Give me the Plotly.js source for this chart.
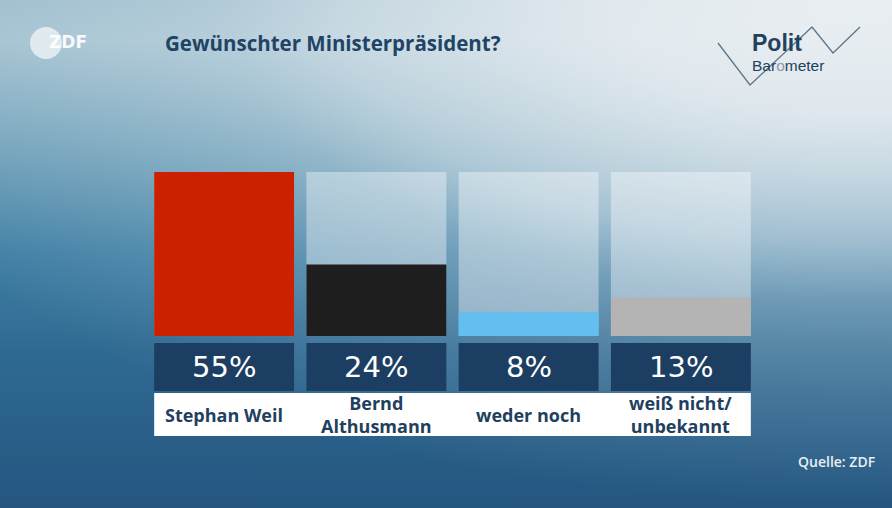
<!DOCTYPE html>
<html>
<head>
<meta charset="utf-8">
<script src="https://cdn.plot.ly/plotly-3.0.1.min.js"></script>
<style>
html,body{margin:0;padding:0;}
body{
  width:892px;height:508px;overflow:hidden;
  background:
    radial-gradient(750px 360px at 850px 0px, rgba(236,240,243,0.96) 0%, rgba(236,240,243,0.88) 30%, rgba(236,240,243,0.75) 45%, rgba(236,240,243,0.53) 68%, rgba(236,240,243,0.31) 83%, rgba(236,240,243,0.24) 92%, rgba(236,240,243,0.13) 111%, rgba(236,240,243,0) 140%),
    linear-gradient(180deg, rgb(152,186,203) 0px, rgb(160,192,208) 40px, rgb(110,160,185) 150px, rgb(65,128,165) 250px, rgb(47,106,146) 350px, rgb(36,86,128) 508px);
}
#chart{width:892px;height:508px;}
</style>
</head>
<body>
<div id="chart"></div>
<script>
// ---- data ----
const categories = ['Stephan Weil', 'Bernd<br>Althusmann', 'weder noch', 'weiß nicht/<br>unbekannt'];
const values = [55, 24, 8, 13];
const barColors = ['#cc2100', '#1e1e1e', '#62bff0', '#b4b4b4'];
const titleText = 'Gewünschter Ministerpräsident?';
const sourceText = 'Quelle: ZDF';

// ---- layout helpers ----
const W = 892, H = 508;
const L = 148, R = 135, T = 157, B = 53;
const PW = W - L - R, PH = H - T - B;
const k = 164 / 55;              // pixels per percentage point
const y0px = 336;                // pixel of value 0
const yRange = [-(H - B - y0px) / k, (y0px - T) / k];
const px = x => (x - L) / PW;    // pixel -> paper x
const py = y => (H - B - y) / PH; // pixel -> paper y
const barW = 0.919;
const idx = categories.map((_, i) => i);
const maxV = Math.max(...values);

// label box extents in value units (below the zero line)
const boxTop = -(343 - y0px) / k, boxBot = -(391 - y0px) / k;
const whiteTop = -(393 - y0px) / k, whiteBot = -(436 - y0px) / k;

const traces = [
  { type: 'bar', x: idx, y: idx.map(() => maxV), width: barW,
    marker: { color: 'rgba(255,255,255,0.38)' }, hoverinfo: 'skip' },
  { type: 'bar', x: idx, y: values, width: barW,
    marker: { color: barColors }, hoverinfo: 'skip' },
  { type: 'bar', x: idx, y: idx.map(() => boxTop - boxBot), base: idx.map(() => boxBot), width: barW,
    marker: { color: '#1c3e62' }, hoverinfo: 'skip' }
];

const fontMain = 'Open Sans, Roboto, sans-serif';
const fontLogo = 'Liberation Sans, Arial, sans-serif';
const navy = '#1f4466';

const annotations = [];
values.forEach((v, i) => {
  annotations.push({ x: i, y: (boxTop + boxBot) / 2, xref: 'x', yref: 'y', text: v + '%',
    showarrow: false, xanchor: 'center', yanchor: 'middle',
    font: { family: 'DejaVu Sans, sans-serif', size: 29, color: '#ffffff', weight: 400 } });
  annotations.push({ x: i, y: (whiteTop + whiteBot) / 2, xref: 'x', yref: 'y', text: categories[i],
    showarrow: false, xanchor: 'center', yanchor: 'middle',
    font: { family: fontMain, size: 18, color: '#223f5e', weight: 700 } });
});
// ZDF logo text
annotations.push({ x: px(47), y: py(42), xref: 'paper', yref: 'paper', text: 'ZDF', showarrow: false,
  xanchor: 'left', yanchor: 'middle', font: { family: 'DejaVu Sans, sans-serif', size: 17, color: 'rgba(255,255,255,0.92)', weight: 700 } });
// Politbarometer logo
annotations.push({ x: px(750), y: py(43), xref: 'paper', yref: 'paper', text: 'Polit', showarrow: false,
  xanchor: 'left', yanchor: 'middle', font: { family: fontLogo, size: 23, color: '#22415f', weight: 700 } });
annotations.push({ x: px(750), y: py(65.5), xref: 'paper', yref: 'paper',
  text: 'Bar<span style="color:#8d9ba6">o</span>meter', showarrow: false,
  xanchor: 'left', yanchor: 'middle', font: { family: fontLogo, size: 15.5, color: '#22415f' } });
// Source
annotations.push({ x: px(877), y: py(461), xref: 'paper', yref: 'paper', text: sourceText, showarrow: false,
  xanchor: 'right', yanchor: 'middle', font: { family: fontMain, size: 14, color: '#e8eff4', weight: 600 } });

const zig = [[718, 43], [750, 85], [812, 27], [833, 53], [860, 27]];
const zigPath = zig.map((p, i) => (i ? 'L' : 'M') + px(p[0]) + ',' + py(p[1])).join(' ');

const shapes = [
  { type: 'rect', xref: 'x', yref: 'y', x0: -barW / 2, x1: (categories.length - 1) + barW / 2,
    y0: whiteBot, y1: whiteTop, fillcolor: '#ffffff', line: { width: 0 }, layer: 'below' },
  { type: 'circle', xref: 'paper', yref: 'paper', xsizemode: 'pixel', ysizemode: 'pixel',
    xanchor: px(46), yanchor: py(43), x0: -16, x1: 16, y0: -16, y1: 16,
    fillcolor: 'rgba(236,241,244,0.82)', line: { width: 0 } },
  { type: 'path', xref: 'paper', yref: 'paper', path: zigPath,
    line: { color: '#5d7688', width: 1.3 } }
];

const layout = {
  width: W, height: H,
  margin: { l: L, r: R, t: T, b: B, pad: 0 },
  paper_bgcolor: 'rgba(0,0,0,0)', plot_bgcolor: 'rgba(0,0,0,0)',
  barmode: 'overlay', showlegend: false,
  title: { text: '<b>' + titleText + '</b>', xref: 'container', yref: 'container',
    x: 165 / W, xanchor: 'left', y: 1 - 44 / H, yanchor: 'middle',
    font: { family: fontMain, size: 20.5, color: navy } },
  xaxis: { range: [-0.5, categories.length - 0.5], visible: false, fixedrange: true },
  yaxis: { range: yRange, visible: false, fixedrange: true },
  shapes: shapes, annotations: annotations
};

Plotly.newPlot('chart', traces, layout, { displayModeBar: false, staticPlot: true });
</script>
</body>
</html>
